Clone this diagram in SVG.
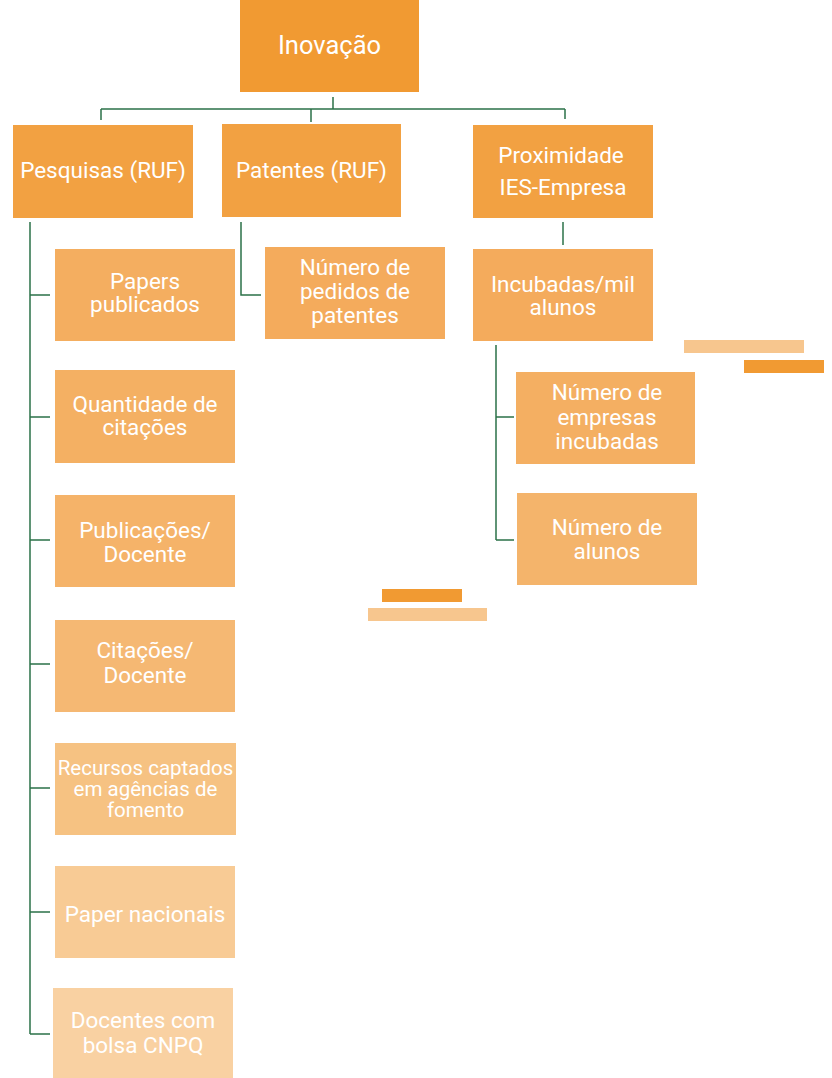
<svg xmlns="http://www.w3.org/2000/svg" width="832" height="1078" viewBox="0 0 832 1078">
<style>
text{font-family:Roboto,"Liberation Sans",sans-serif;fill:#fff;text-anchor:middle;dominant-baseline:central;font-size:22.5px}
.t1{font-size:25.5px}
.t2{font-size:22.5px}
.sm{font-size:20.5px}
.c{stroke:#2B7248;stroke-width:1.5;fill:none}
</style>
<rect width="832" height="1078" fill="#fff"/>
<g id="connectors">
<path class="c" d="M333 97V109M101 109H565M101 109V120M311 109V122M565 109V119"/>
<path class="c" d="M30 222V1034M30 295H50M30 417H50M30 540H50M30 664H50M30 788H50M30 912H50M30 1034H50"/>
<path class="c" d="M241 222V295H261"/>
<path class="c" d="M563 222V245"/>
<path class="c" d="M496 345V540M496 417H514M496 540H514"/>
</g>
<g id="deco">
<rect x="684" y="340" width="120" height="13" fill="#F7C68E"/>
<rect x="744" y="360" width="80" height="13" fill="#F19A32"/>
<rect x="382" y="589" width="80" height="13" fill="#F19A32"/>
<rect x="368" y="608" width="119" height="13" fill="#F7C68E"/>
</g>
<g id="inovacao"><rect x="240" y="0" width="179" height="92" fill="#F19A32"/><text class="t1" x="329.5" y="45">Inovação</text></g>
<g id="pesquisas"><rect x="13" y="125" width="180" height="93" fill="#F2A142"/><text class="t2" x="103" y="170">Pesquisas (RUF)</text></g>
<g id="patentes"><rect x="222" y="124" width="179" height="93" fill="#F2A142"/><text class="t2" x="311.5" y="170">Patentes (RUF)</text></g>
<g id="proximidade"><rect x="473" y="125" width="180" height="93" fill="#F2A142"/><text class="t2" x="561" y="155">Proximidade</text><text class="t2" x="563" y="187">IES-Empresa</text></g>
<g id="papers"><rect x="55" y="249" width="180" height="92" fill="#F4AE60"/><text x="145" y="281">Papers</text><text x="145" y="304">publicados</text></g>
<g id="quantidade"><rect x="55" y="370" width="180" height="93" fill="#F4B063"/><text x="145" y="404">Quantidade de</text><text x="145" y="427">citações</text></g>
<g id="publicacoes"><rect x="55" y="495" width="180" height="92" fill="#F5B369"/><text x="145" y="530">Publicações/</text><text x="145" y="554">Docente</text></g>
<g id="citacoes"><rect x="55" y="620" width="180" height="92" fill="#F5B873"/><text x="145" y="650">Citações/</text><text x="145" y="675">Docente</text></g>
<g id="recursos"><rect x="55" y="743" width="181" height="92" fill="#F6C282"/><text class="sm" x="145.5" y="768">Recursos captados</text><text class="sm" x="145.5" y="789">em agências de</text><text class="sm" x="145.5" y="810">fomento</text></g>
<g id="paper-nacionais"><rect x="55" y="866" width="180" height="92" fill="#F8CB95"/><text x="145" y="914">Paper nacionais</text></g>
<g id="docentes"><rect x="53" y="988" width="180" height="90" fill="#F9D1A2"/><text x="143" y="1020">Docentes com</text><text x="143" y="1045">bolsa CNPQ</text></g>
<g id="pedidos"><rect x="265" y="247" width="180" height="92" fill="#F4AB5C"/><text x="355" y="267">Número de</text><text x="355" y="291">pedidos de</text><text x="355" y="315">patentes</text></g>
<g id="incubadas"><rect x="473" y="249" width="180" height="92" fill="#F4AB5C"/><text x="563" y="284">Incubadas/mil</text><text x="563" y="307">alunos</text></g>
<g id="empresas"><rect x="516" y="372" width="179" height="92" fill="#F4AF62"/><text x="607" y="392">Número de</text><text x="607" y="417">empresas</text><text x="607" y="441">incubadas</text></g>
<g id="alunos"><rect x="517" y="493" width="180" height="92" fill="#F4B46B"/><text x="607" y="527">Número de</text><text x="607" y="551">alunos</text></g>
</svg>
